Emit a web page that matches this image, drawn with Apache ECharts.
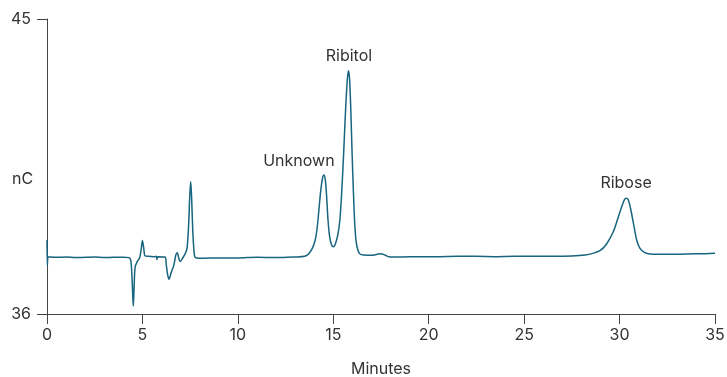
<!DOCTYPE html>
<html>
<head>
<meta charset="utf-8">
<script src="https://cdn.jsdelivr.net/npm/echarts@6/dist/echarts.min.js"></script>
<style>
  html, body { margin: 0; padding: 0; background: #fff; }
  #chart { width: 727px; height: 377px; }
</style>
</head>
<body>
<div id="chart"></div>
<script>
// chromatogram trace, [minutes, nC]
var trace = [
  [0, 38.26], [0.02, 37.49], [0.06, 37.74], [0.5, 37.73], [1.0, 37.74], [1.5, 37.72],
  [2.0, 37.73], [2.5, 37.74], [3.0, 37.72], [3.5, 37.73], [4.0, 37.73], [4.3, 37.72],
  [4.4, 37.6], [4.47, 36.9], [4.52, 36.24], [4.57, 36.9], [4.62, 37.44], [4.75, 37.62],
  [4.85, 37.71], [4.93, 37.95], [5.0, 38.24], [5.07, 38.0], [5.13, 37.78], [5.3, 37.76],
  [5.6, 37.75], [5.72, 37.76], [5.76, 37.66], [5.8, 37.75], [6.18, 37.74], [6.25, 37.5],
  [6.32, 37.2], [6.39, 37.06], [6.5, 37.25], [6.65, 37.5], [6.75, 37.8], [6.83, 37.87],
  [6.9, 37.72], [6.97, 37.6], [7.1, 37.7], [7.25, 37.85], [7.34, 38.01], [7.42, 38.7],
  [7.48, 39.6], [7.53, 40.04], [7.58, 39.5], [7.64, 38.5], [7.7, 37.93], [7.75, 37.74],
  [7.85, 37.71], [8.2, 37.7], [9, 37.71], [10, 37.71], [11, 37.73], [12, 37.72],
  [13, 37.74], [13.5, 37.76], [13.7, 37.83], [13.9, 38.0], [14.05, 38.25], [14.15, 38.6],
  [14.25, 39.2], [14.35, 39.8], [14.45, 40.18], [14.51, 40.24], [14.58, 40.1], [14.65, 39.6],
  [14.72, 38.9], [14.8, 38.4], [14.9, 38.12], [15.0, 38.05], [15.1, 38.12], [15.25, 38.45],
  [15.35, 38.9], [15.45, 39.8], [15.55, 41.0], [15.65, 42.3], [15.73, 43.1], [15.79, 43.42],
  [15.85, 43.2], [15.92, 42.2], [15.98, 41.0], [16.05, 39.8], [16.12, 38.8], [16.2, 38.2],
  [16.3, 37.93], [16.4, 37.83], [16.6, 37.8], [17.0, 37.79], [17.3, 37.82], [17.5, 37.84],
  [17.7, 37.8], [17.9, 37.75], [18.5, 37.74], [19.5, 37.75], [20.5, 37.75], [21.5, 37.76],
  [22.5, 37.76], [23.5, 37.75], [24.5, 37.76], [25.5, 37.76], [26.5, 37.76], [27.5, 37.77],
  [28.2, 37.8], [28.6, 37.85], [28.97, 37.93], [29.3, 38.12], [29.67, 38.51], [29.9, 38.9],
  [30.11, 39.27], [30.25, 39.48], [30.34, 39.53], [30.46, 39.48], [30.6, 39.15], [30.76, 38.66],
  [30.9, 38.25], [31.07, 38.0], [31.3, 37.88], [31.6, 37.83], [32.5, 37.82], [33.5, 37.83],
  [34.5, 37.84], [35, 37.85]
];

// peak names and where their labels sit (minutes, nC)
var peakNames = ["Unknown", "Ribitol", "Ribose"];
var peakLabelX = [13.2, 15.82, 30.34];
var peakLabelY = [40.67, 43.87, 40.0];

var xTicks = [0, 5, 10, 15, 20, 25, 30, 35];
var yTicks = [36, 45];

var font = "Inter, 'Liberation Sans', sans-serif";
var textColor = "#333";
var lineColor = "#17657e";
var axisColor = "#444";

var myChart = echarts.init(document.getElementById("chart"));

var peakLabels = [];
for (var i = 0; i < peakNames.length; i++) {
  peakLabels.push({ name: peakNames[i], value: [peakLabelX[i], peakLabelY[i]] });
}

var option = {
  animation: false,
  grid: { left: 47, right: 12, top: 19, bottom: 63, outerBoundsMode: "none", containLabel: false },
  graphic: [
    {
      type: "text",
      left: 12,
      top: 171,
      style: { text: "nC", fill: textColor, font: "16px " + font }
    }
  ],
  xAxis: {
    type: "value",
    min: xTicks[0],
    max: xTicks[xTicks.length - 1],
    interval: 5,
    name: "Minutes",
    nameLocation: "middle",
    nameGap: 47,
    nameTextStyle: { color: textColor, fontFamily: font, fontSize: 16 },
    axisLine: { show: true, onZero: false, lineStyle: { color: axisColor, width: 1 } },
    axisTick: { show: true, inside: false, length: 10, lineStyle: { color: axisColor, width: 1 } },
    axisLabel: { color: textColor, fontFamily: font, fontSize: 16, margin: 13 },
    splitLine: { show: false }
  },
  yAxis: {
    type: "value",
    min: yTicks[0],
    max: yTicks[1],
    interval: yTicks[1] - yTicks[0],
    axisLine: { show: true, lineStyle: { color: axisColor, width: 1 } },
    axisTick: { show: true, inside: false, length: 10, lineStyle: { color: axisColor, width: 1 } },
    axisLabel: { color: textColor, fontFamily: font, fontSize: 16, margin: 16 },
    splitLine: { show: false }
  },
  series: [
    {
      type: "line",
      data: trace,
      showSymbol: false,
      smooth: 0.3,
      lineStyle: { color: lineColor, width: 1.5 }
    },
    {
      type: "scatter",
      data: peakLabels,
      symbolSize: 0,
      silent: true,
      itemStyle: { color: "rgba(0,0,0,0)", opacity: 1 },
      label: {
        show: true,
        position: "inside",
        formatter: "{b}",
        color: textColor,
        opacity: 1,
        fontFamily: font,
        fontSize: 16
      },
      labelLayout: { hideOverlap: false }
    }
  ]
};

myChart.setOption(option);
window.addEventListener("resize", () => {
  myChart.resize();
});
</script>
</body>
</html>
